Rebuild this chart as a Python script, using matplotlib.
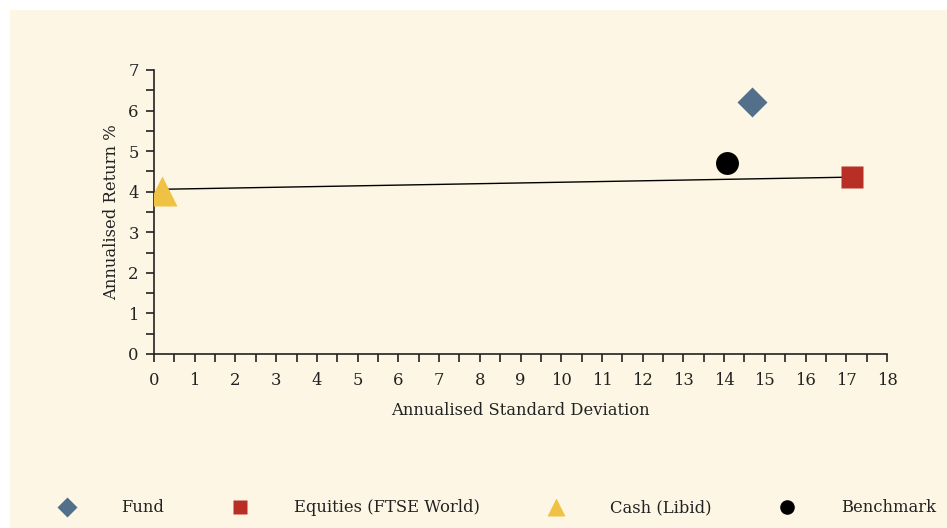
import matplotlib as mpl
import matplotlib.pyplot as plt
from matplotlib.lines import Line2D
from matplotlib.patches import Rectangle

mpl.rcParams['font.family'] = ['DejaVu Serif']

# data
names = ['Fund', 'Equities (FTSE World)', 'Cash (Libid)', 'Benchmark']
std_dev = [14.69, 17.14, 0.2, 14.07]
ret = [6.21, 4.36, 4.02, 4.71]
# market line from cash to equities
line_x = [0.2, 17.14]
line_y = [4.06, 4.36]

markers = ['D', 's', '^', 'o']
colors = ['#527089', '#b83025', '#f0c243', '#000000']
sizes = [15.5, 15.8, 21.6, 16.5]
leg_sizes = [10.5, 10.5, 13.5, 10.5]
leg_x = [67, 240, 556, 787]   # legend marker centres, px

bg = '#fdf6e4'
fs = 11.8
fig = plt.figure(figsize=(9.47, 5.28), dpi=100, facecolor='white')
fig.patches.append(Rectangle((10 / 947, 0), 1, 518 / 528, transform=fig.transFigure,
                             facecolor=bg, edgecolor='none', zorder=-10))

ax = fig.add_axes([154 / 947, 1 - 354 / 528, 733 / 947, 284 / 528])
ax.set_facecolor('none')

ax.plot(line_x, line_y, color='black', lw=1, zorder=2)
for x, y, m, c, s in zip(std_dev, ret, markers, colors, sizes):
    ax.plot(x, y, marker=m, color=c, ms=s, mec='none', linestyle='None', zorder=3)

ax.set_xlim(0, 18)
ax.set_ylim(0, 7)
ax.set_xticks(range(0, 19))
ax.set_yticks(range(0, 8))
ax.set_xticks([i + 0.5 for i in range(18)], minor=True)
ax.set_yticks([i + 0.5 for i in range(7)], minor=True)
ax.tick_params(axis='both', which='both', direction='out', length=6, width=1.2,
               color='#222222', labelsize=fs, labelcolor='#222222')
ax.tick_params(axis='x', pad=7)
ax.tick_params(axis='y', pad=5)
for sp in ['top', 'right']:
    ax.spines[sp].set_visible(False)
for sp in ['left', 'bottom']:
    ax.spines[sp].set_linewidth(1.2)
    ax.spines[sp].set_color('#222222')

ax.set_xlabel('Annualised Standard Deviation', fontsize=fs, color='#222222', labelpad=9)
ax.set_ylabel('Annualised Return %', fontsize=fs, color='#222222', labelpad=6)

fs_px = fs * 100 / 72
for name, m, c, s, lx in zip(names, markers, colors, leg_sizes, leg_x):
    h = Line2D([], [], marker=m, color=c, ms=s, mec='none', linestyle='None')
    fig.legend([h], [name], loc='center left',
               bbox_to_anchor=((lx - fs_px / 2) / 947, 20 / 528),
               frameon=False, fontsize=fs, handlelength=1, borderpad=0,
               borderaxespad=0, handletextpad=(54 - fs_px / 2) / fs_px,
               labelcolor='#222222')

plt.savefig('out.png', dpi=100, facecolor=fig.get_facecolor())
